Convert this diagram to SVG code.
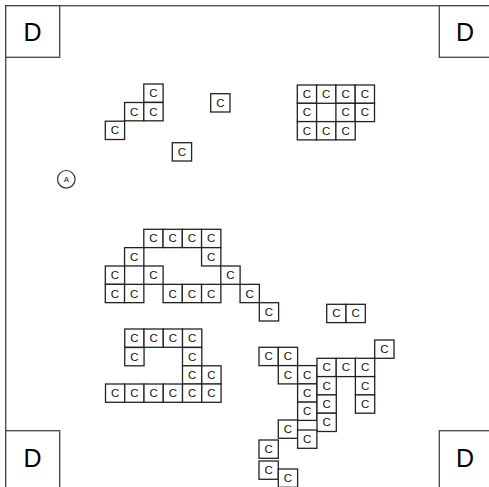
<svg xmlns="http://www.w3.org/2000/svg" width="489" height="487" viewBox="0 0 489 487">
<style>
.frame{fill:none;stroke:#444;stroke-width:1.3}
.c{fill:#fff;stroke:#222;stroke-width:1.3}
.t{font-family:"Liberation Sans",Arial,sans-serif;font-size:11.5px;text-anchor:middle;fill:#111}
.d{fill:#fff;stroke:#444;stroke-width:1.3}
.dt{font-family:"Liberation Sans",Arial,sans-serif;font-size:25px;text-anchor:middle;fill:#000}
.a{fill:#fff;stroke:#333;stroke-width:1.2}
.at{font-family:"Liberation Sans",Arial,sans-serif;font-size:8px;text-anchor:middle;fill:#111}
</style>
<defs>
<g id="cell"><rect class="c" width="19.3" height="18.3"/><text class="t" x="9.65" y="13.2">C</text></g>
</defs>
<rect width="489" height="487" fill="#fff"/>
<rect class="frame" x="5.7" y="5.7" width="488" height="482"/>
<g id="connectors"/>
<g id="D1"><rect class="d" x="5.7" y="5.7" width="54" height="51.6"/><text class="dt" x="32.5" y="41">D</text></g>
<g id="D2"><rect class="d" x="439.3" y="5.7" width="54" height="51.6"/><text class="dt" x="465" y="41">D</text></g>
<g id="D3"><rect class="d" x="5.7" y="430.7" width="54" height="58"/><text class="dt" x="32.5" y="467">D</text></g>
<g id="D4"><rect class="d" x="439.3" y="430.7" width="54" height="58"/><text class="dt" x="465" y="467">D</text></g>
<g id="A"><circle class="a" cx="66.3" cy="179.3" r="8.8"/><text class="at" x="66.3" y="182.2">A</text></g>
<g id="c1"><use href="#cell" x="143.8" y="84"/></g>
<g id="c2"><use href="#cell" x="124.6" y="102.5"/></g>
<g id="c3"><use href="#cell" x="143.8" y="102.5"/></g>
<g id="c4"><use href="#cell" x="105.3" y="121.2"/></g>
<g id="c5"><use href="#cell" x="210.7" y="93.7"/></g>
<g id="c6"><use href="#cell" x="172.3" y="142.7"/></g>
<g id="c7"><use href="#cell" x="297.3" y="85"/></g>
<g id="c8"><use href="#cell" x="316.6" y="85"/></g>
<g id="c9"><use href="#cell" x="335.9" y="85"/></g>
<g id="c10"><use href="#cell" x="355.2" y="85"/></g>
<g id="c11"><use href="#cell" x="297.3" y="103.3"/></g>
<g id="c12"><use href="#cell" x="335.9" y="103.3"/></g>
<g id="c13"><use href="#cell" x="355.2" y="103.3"/></g>
<g id="c14"><use href="#cell" x="297.3" y="121.6"/></g>
<g id="c15"><use href="#cell" x="316.6" y="121.6"/></g>
<g id="c16"><use href="#cell" x="335.9" y="121.6"/></g>
<g id="c17"><use href="#cell" x="143.8" y="229.3"/></g>
<g id="c18"><use href="#cell" x="163.05" y="229.3"/></g>
<g id="c19"><use href="#cell" x="182.3" y="229.3"/></g>
<g id="c20"><use href="#cell" x="201.55" y="229.3"/></g>
<g id="c21"><use href="#cell" x="124.55" y="247.65"/></g>
<g id="c22"><use href="#cell" x="201.55" y="247.65"/></g>
<g id="c23"><use href="#cell" x="105.3" y="266"/></g>
<g id="c24"><use href="#cell" x="143.8" y="266"/></g>
<g id="c25"><use href="#cell" x="220.8" y="266"/></g>
<g id="c26"><use href="#cell" x="105.3" y="284.35"/></g>
<g id="c27"><use href="#cell" x="124.55" y="284.35"/></g>
<g id="c28"><use href="#cell" x="163.05" y="284.35"/></g>
<g id="c29"><use href="#cell" x="182.3" y="284.35"/></g>
<g id="c30"><use href="#cell" x="201.55" y="284.35"/></g>
<g id="c31"><use href="#cell" x="240.05" y="284.35"/></g>
<g id="c32"><use href="#cell" x="259.3" y="302.7"/></g>
<g id="c33"><use href="#cell" x="326.7" y="304.3"/></g>
<g id="c34"><use href="#cell" x="346" y="304.3"/></g>
<g id="c35"><use href="#cell" x="124.75" y="329"/></g>
<g id="c36"><use href="#cell" x="144" y="329"/></g>
<g id="c37"><use href="#cell" x="163.25" y="329"/></g>
<g id="c38"><use href="#cell" x="182.5" y="329"/></g>
<g id="c39"><use href="#cell" x="124.75" y="347.5"/></g>
<g id="c40"><use href="#cell" x="182.5" y="347.5"/></g>
<g id="c41"><use href="#cell" x="182.5" y="365.8"/></g>
<g id="c42"><use href="#cell" x="201.75" y="365.8"/></g>
<g id="c43"><use href="#cell" x="105.5" y="384"/></g>
<g id="c44"><use href="#cell" x="124.75" y="384"/></g>
<g id="c45"><use href="#cell" x="144" y="384"/></g>
<g id="c46"><use href="#cell" x="163.25" y="384"/></g>
<g id="c47"><use href="#cell" x="182.5" y="384"/></g>
<g id="c48"><use href="#cell" x="201.75" y="384"/></g>
<g id="c49"><use href="#cell" x="374.7" y="340"/></g>
<g id="c50"><use href="#cell" x="259" y="347.3"/></g>
<g id="c51"><use href="#cell" x="278.3" y="347.3"/></g>
<g id="c52"><use href="#cell" x="278.3" y="365.6"/></g>
<g id="c53"><use href="#cell" x="297.6" y="365.6"/></g>
<g id="c54"><use href="#cell" x="297.6" y="383.9"/></g>
<g id="c55"><use href="#cell" x="297.6" y="402.1"/></g>
<g id="c56"><use href="#cell" x="317" y="358.3"/></g>
<g id="c57"><use href="#cell" x="336.2" y="358.3"/></g>
<g id="c58"><use href="#cell" x="355.4" y="358.3"/></g>
<g id="c59"><use href="#cell" x="317" y="376.6"/></g>
<g id="c60"><use href="#cell" x="317" y="394.9"/></g>
<g id="c61"><use href="#cell" x="317" y="413.2"/></g>
<g id="c62"><use href="#cell" x="355.4" y="376.6"/></g>
<g id="c63"><use href="#cell" x="355.4" y="394.9"/></g>
<g id="c64"><use href="#cell" x="278.3" y="420"/></g>
<g id="c65"><use href="#cell" x="297.6" y="430"/></g>
<g id="c66"><use href="#cell" x="259" y="440"/></g>
<g id="c67"><use href="#cell" x="259" y="461"/></g>
<g id="c68"><use href="#cell" x="278.3" y="469"/></g>
</svg>
